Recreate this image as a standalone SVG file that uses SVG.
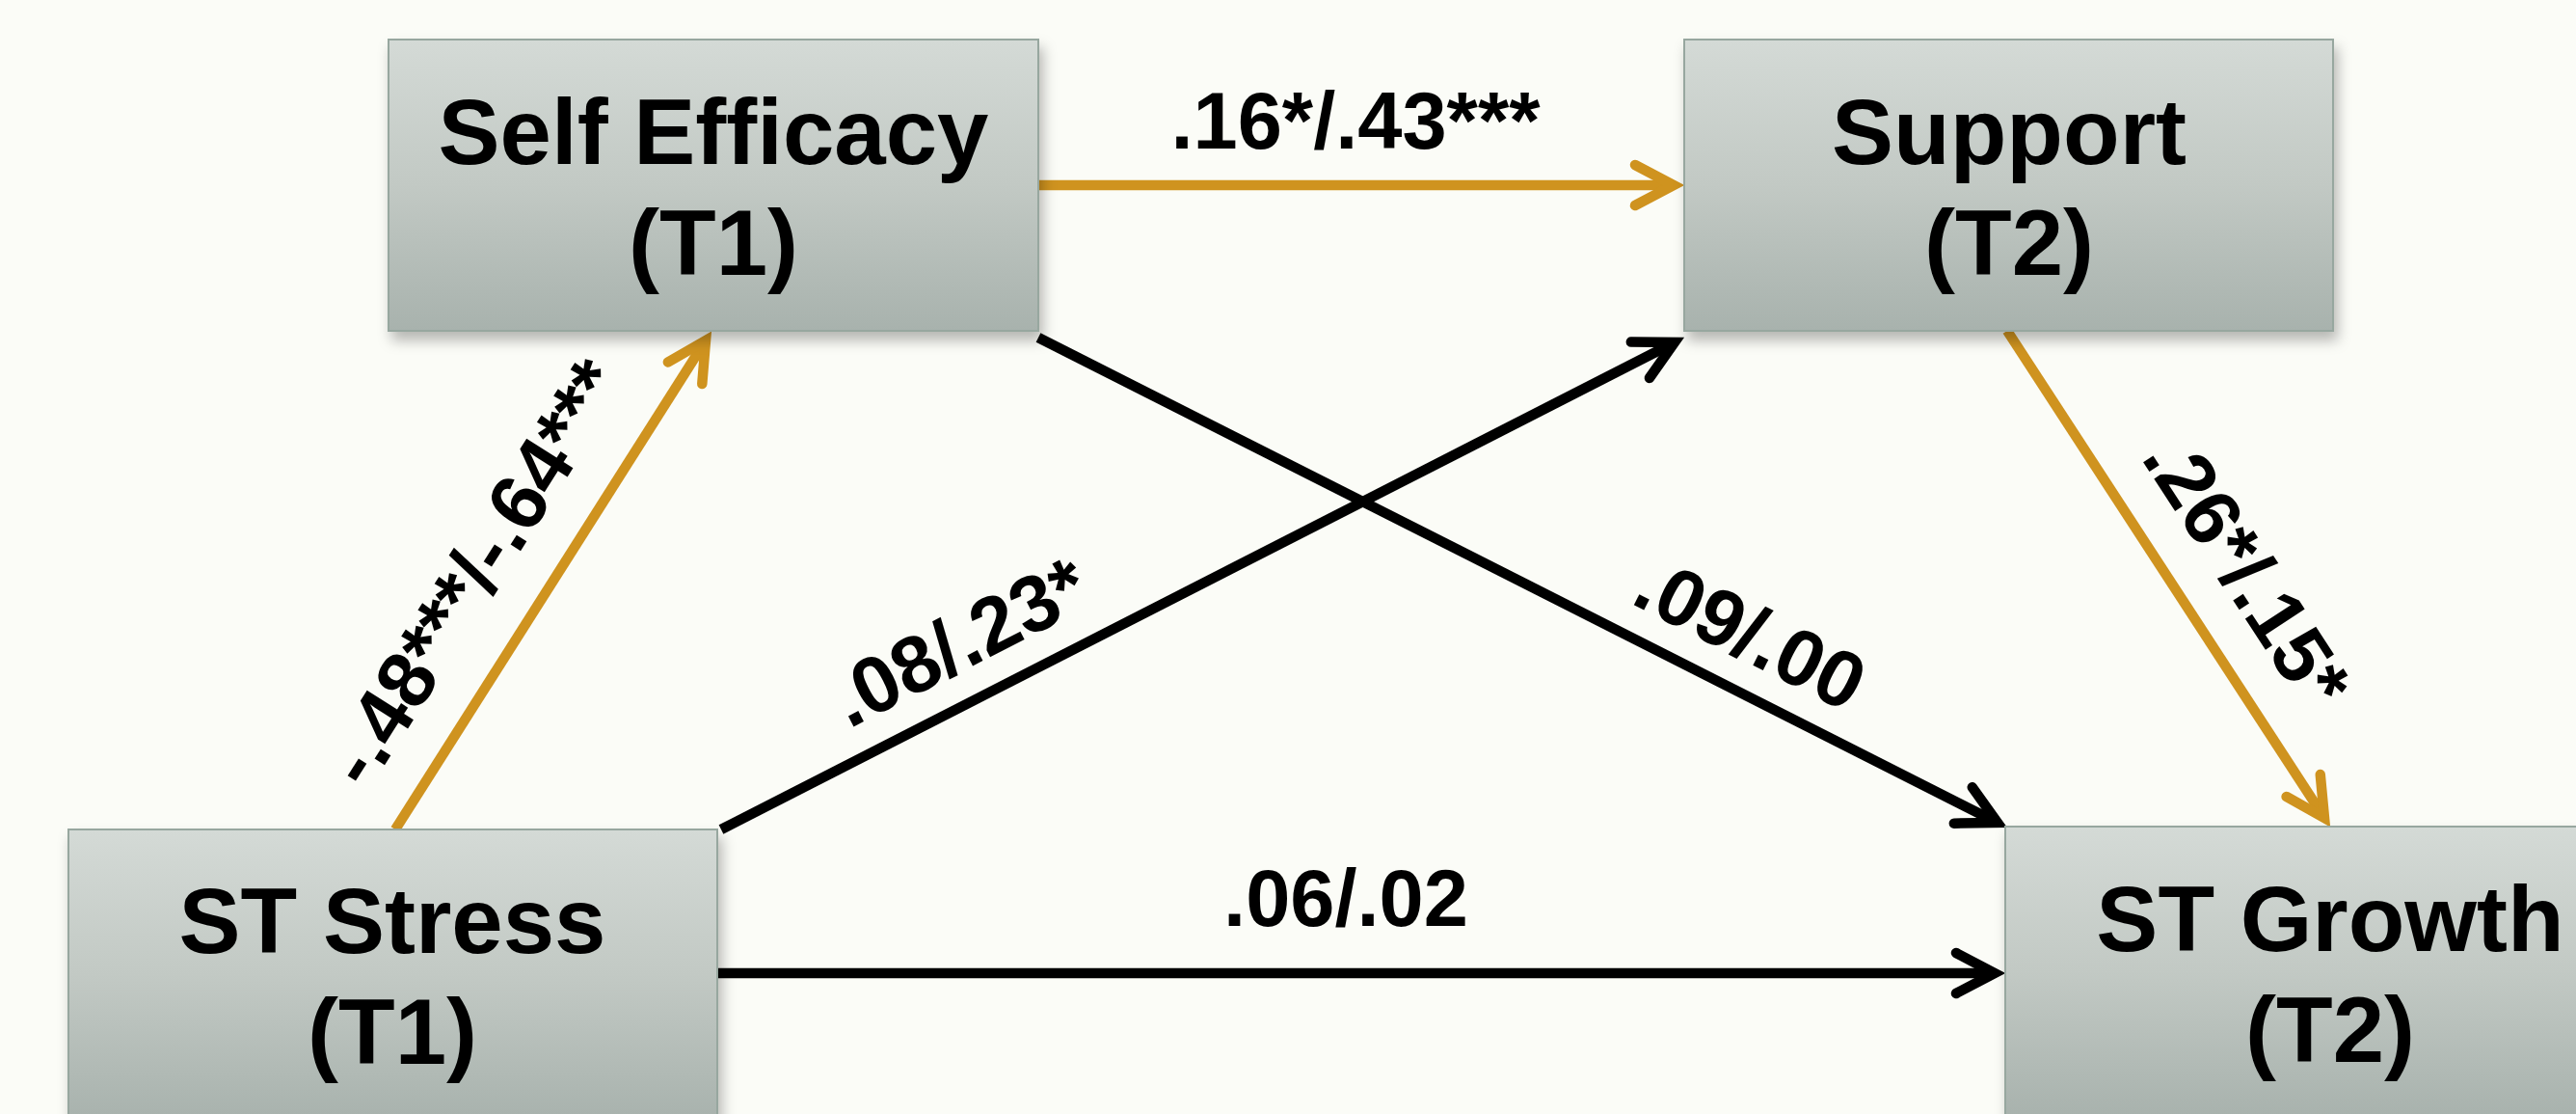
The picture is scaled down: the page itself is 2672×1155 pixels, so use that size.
<svg xmlns="http://www.w3.org/2000/svg" width="2672" height="1155" viewBox="0 0 2672 1155">
  <defs>
    <linearGradient id="boxGrad" x1="0" y1="0" x2="0" y2="1">
      <stop offset="0" stop-color="#d4dad6"/>
      <stop offset="0.5" stop-color="#c2c9c4"/>
      <stop offset="1" stop-color="#a8b2ad"/>
    </linearGradient>
    <filter id="shadow" x="-10%" y="-10%" width="125%" height="130%">
      <feDropShadow dx="4" dy="9" stdDeviation="7" flood-color="#000" flood-opacity="0.28"/>
    </filter>
    <marker id="arrowOrange" markerUnits="userSpaceOnUse" orient="auto" refX="0" refY="0" markerWidth="80" markerHeight="80" viewBox="-60 -40 80 80" overflow="visible">
      <path d="M -40,-21 L 0,0 L -40,21" fill="none" stroke="#cf931f" stroke-width="10.5" stroke-linecap="round" stroke-linejoin="miter"/>
    </marker>
    <marker id="arrowBlack" markerUnits="userSpaceOnUse" orient="auto" refX="0" refY="0" markerWidth="80" markerHeight="80" viewBox="-60 -40 80 80" overflow="visible">
      <path d="M -40,-21 L 0,0 L -40,21" fill="none" stroke="#000" stroke-width="10.5" stroke-linecap="round" stroke-linejoin="miter"/>
    </marker>
  </defs>
  <style>
    .box { fill: url(#boxGrad); stroke: #97a79f; stroke-width: 2; filter: url(#shadow); }
    .node-text { font-family: "Liberation Sans", Arial, sans-serif; font-weight: bold; font-size: 96px; fill: #000; text-anchor: middle; }
    .lbl { font-family: "Liberation Sans", Arial, sans-serif; font-weight: bold; font-size: 83px; fill: #000; text-anchor: middle; }
    .orange { fill: none; stroke: #cf931f; stroke-width: 10.5; marker-end: url(#arrowOrange); }
    .black { fill: none; stroke: #000; stroke-width: 10.5; marker-end: url(#arrowBlack); }
  </style>
  <rect x="0" y="0" width="2672" height="1155" fill="#fbfcf7"/>

  <g id="connectors">
    <line class="orange" x1="1077" y1="192" x2="1736" y2="192"/>
    <line class="orange" x1="410" y1="860" x2="732" y2="353"/>
    <line class="black" x1="748" y1="860" x2="1737" y2="355"/>
    <line class="black" x1="1077" y1="350" x2="2072" y2="853"/>
    <line class="black" x1="744" y1="1009" x2="2069" y2="1009"/>
    <line class="orange" x1="2082" y1="343" x2="2411" y2="848"/>
  </g>

  <g id="node-self-efficacy">
    <rect class="box" x="403" y="41" width="674" height="302"/>
    <text class="node-text" x="740" y="170">Self Efficacy</text>
    <text class="node-text" x="740" y="285">(T1)</text>
  </g>
  <g id="node-support">
    <rect class="box" x="1747" y="41" width="673" height="302"/>
    <text class="node-text" x="2084" y="170">Support</text>
    <text class="node-text" x="2084" y="285">(T2)</text>
  </g>
  <g id="node-st-stress">
    <rect class="box" x="71" y="860" width="673" height="302"/>
    <text class="node-text" x="407" y="988">ST Stress</text>
    <text class="node-text" x="407" y="1103">(T1)</text>
  </g>
  <g id="node-st-growth">
    <rect class="box" x="2080" y="857" width="674" height="302"/>
    <text class="node-text" x="2417" y="986">ST Growth</text>
    <text class="node-text" x="2417" y="1101">(T2)</text>
  </g>

  <g id="labels">
    <text class="lbl" x="1406" y="154">.16*/.43***</text>
    <text class="lbl" x="1396" y="960">.06/.02</text>
    <text class="lbl" transform="translate(516,609) rotate(-57.6)">-.48***/-.64***</text>
    <text class="lbl" transform="translate(1008,691) rotate(-27.05)">.08/.23*</text>
    <text class="lbl" transform="translate(1803,682) rotate(26.8)">.09/.00</text>
    <text class="lbl" transform="translate(2307,608) rotate(56.9)">.26*/.15*</text>
  </g>
</svg>
